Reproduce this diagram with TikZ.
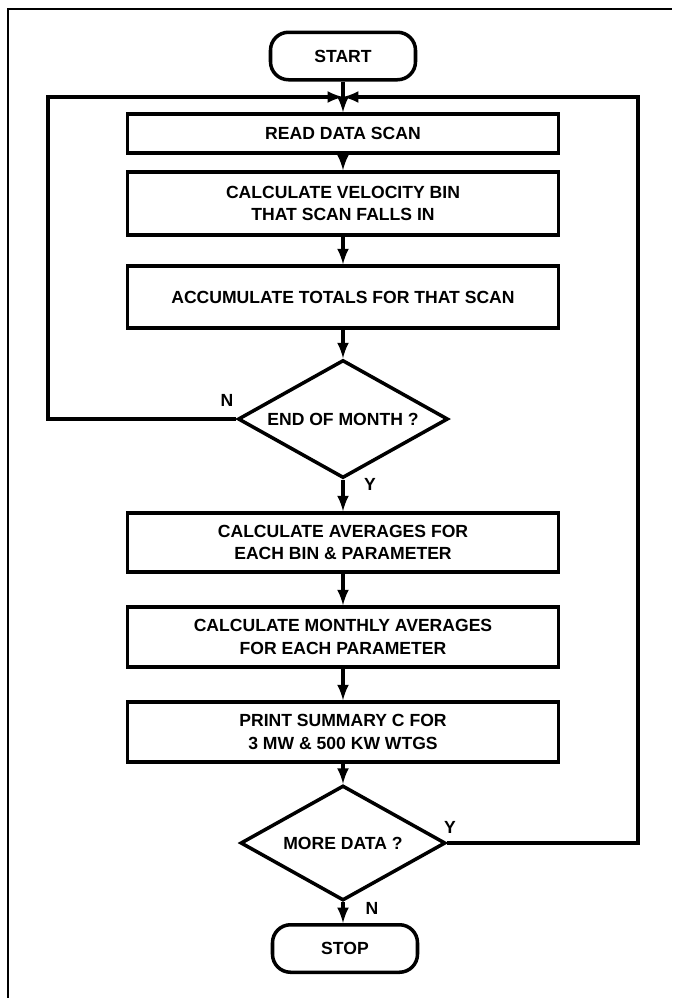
\documentclass[tikz,border=0pt]{standalone}
\usepackage{fontspec}
\setmainfont{Liberation Sans}
\usetikzlibrary{shapes.geometric}

\begin{document}
\begin{tikzpicture}[scale=1,
  bloc/.style={draw, line width=2pt, minimum width=8.62cm, align=center, font=\bfseries\fontsize{10}{13}\selectfont},
  test/.style={draw, diamond, aspect=1.78, line width=2pt, inner sep=0pt, minimum width=4.2cm, minimum height=2.36cm, font=\bfseries\fontsize{10}{13}\selectfont},
  borne/.style={draw, line width=2pt, rounded corners=0.36cm, minimum width=2.9cm, minimum height=0.95cm, font=\bfseries\fontsize{10}{13}\selectfont},
  lettre/.style={font=\bfseries\fontsize{10}{13}\selectfont},
  fleche/.style={line width=2pt,->,>=latex}]
\useasboundingbox (0,0) rectangle (13.44,-19.96);
\draw [line width=1.5pt] (0.16,-19.96) -- (0.16,-0.18) -- (13.44,-0.18);
% blocs
\node [borne] (start) at (6.86,-1.12) {START};
\node [bloc, minimum height=0.78cm] (read) at (6.86,-2.67) {READ DATA SCAN};
\node [bloc, minimum height=1.26cm] (bin) at (6.86,-4.07) {CALCULATE VELOCITY BIN\\THAT SCAN FALLS IN};
\node [bloc, minimum height=1.24cm] (accu) at (6.86,-5.94) {ACCUMULATE TOTALS FOR THAT SCAN};
\node [test] (month) at (6.86,-8.38) {END OF MONTH ?};
\node [bloc, minimum height=1.18cm] (avg) at (6.86,-10.85) {CALCULATE AVERAGES FOR\\EACH BIN \& PARAMETER};
\node [bloc, minimum height=1.2cm] (mavg) at (6.86,-12.74) {CALCULATE MONTHLY AVERAGES\\FOR EACH PARAMETER};
\node [bloc, minimum height=1.2cm] (print) at (6.86,-14.64) {PRINT SUMMARY C FOR\\3 MW \& 500 KW WTGS};
\node [test, minimum width=4.1cm, minimum height=2.3cm] (more) at (6.86,-16.86) {MORE DATA ?};
\node [borne] (stop) at (6.9,-18.97) {STOP};
% reponses
\node [lettre] (n1) at (4.54,-8.0) {N};
\node [lettre] (y1) at (7.4,-9.68) {Y};
\node [lettre] (y2) at (9.0,-16.54) {Y};
\node [lettre] (n2) at (7.44,-18.16) {N};
% liaisons
\coordinate (join) at (6.86,-1.94);
\coordinate (coinG) at (0.96,-1.94);
\coordinate (coinD) at (12.76,-1.94);
\draw [fleche] (start) -- (read);
\draw [fleche] (read) -- (bin);
\draw [fleche] (bin) -- (accu);
\draw [fleche] (accu) -- (month);
\draw [fleche] (month) -- (avg);
\draw [fleche] (avg) -- (mavg);
\draw [fleche] (mavg) -- (print);
\draw [fleche] (print) -- (more);
\draw [fleche] (more.south) -- (stop.north -| more.south);
\draw [fleche] (month.west) -| (coinG) -- (join);
\draw [fleche] (more.east) -| (coinD) -- (join);
\end{tikzpicture}
\end{document}
